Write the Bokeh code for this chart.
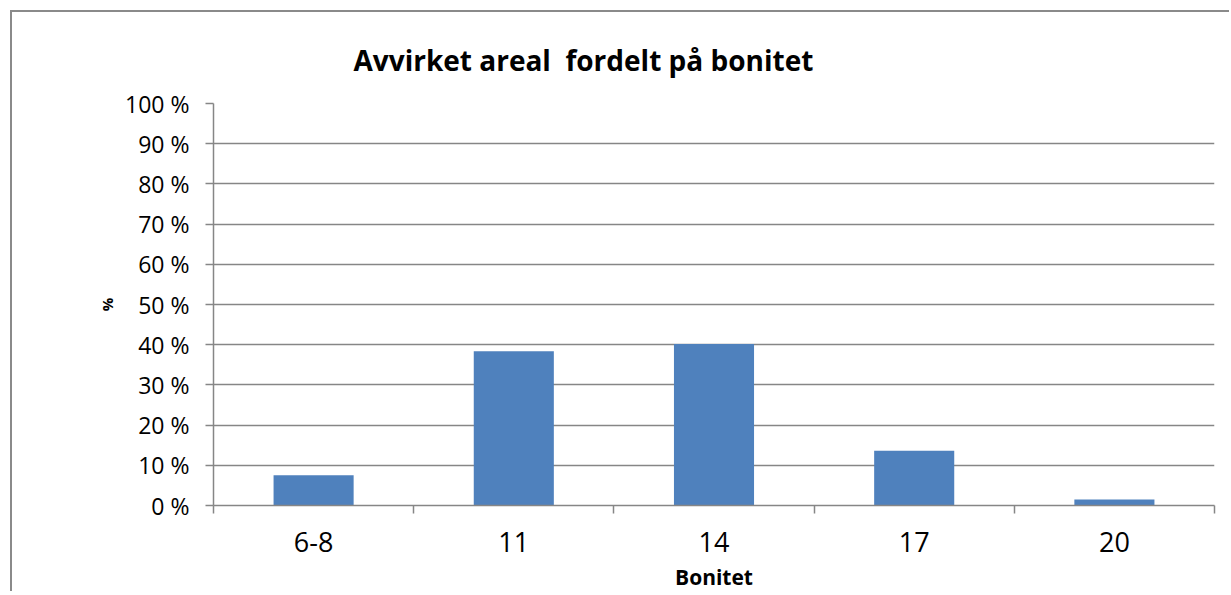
from bokeh.plotting import figure
from bokeh.models import Range1d, FixedTicker, PrintfTickFormatter, ColumnDataSource
from bokeh.embed import file_html
from bokeh.resources import INLINE

categories = ["6-8", "11", "14", "17", "20"]
values = [7.5, 38.4, 40.2, 13.6, 1.5]
y_ticks = [0, 10, 20, 30, 40, 50, 60, 70, 80, 90, 100]

FONT = "Open Sans"
GRAY = "#868686"

n = len(categories)
centers = [i + 0.5 for i in range(n)]
source = ColumnDataSource(dict(x=centers, top=values, cat=categories))

p = figure(width=1219, height=581, output_backend="svg", toolbar_location=None,
           x_range=Range1d(0, n), y_range=Range1d(0, 100),
           min_border_left=201, min_border_right=17, min_border_top=91, min_border_bottom=87)
p.margin = (10, 0, 0, 10)
p.styles = {"border-left": "2px solid #8a8a8a", "border-top": "2px solid #8a8a8a"}

p.vbar(x="x", top="top", width=0.4, bottom=0, source=source,
       fill_color="#4f81bd", line_color=None)

p.outline_line_color = None
p.background_fill_color = "white"
p.border_fill_color = "white"

# Title
p.title.text = "Avvirket areal\u00a0 fordelt på bonitet"
p.title.text_font = FONT
p.title.text_font_size = "28px"
p.title.text_font_style = "bold"
p.title.text_color = "black"
p.title.align = "left"
p.title.offset = 140
p.title.standoff = 50

# Grid
p.xgrid.grid_line_color = None
p.ygrid.ticker = FixedTicker(ticks=y_ticks)
p.ygrid.grid_line_color = GRAY
p.ygrid.grid_line_width = 1.5

# Y axis
yax = p.yaxis[0]
yax.ticker = FixedTicker(ticks=y_ticks)
yax.formatter = PrintfTickFormatter(format="%d %%")
yax.axis_line_color = GRAY
yax.axis_line_width = 1.5
yax.major_tick_line_color = GRAY
yax.major_tick_line_width = 1.5
yax.major_tick_out = 8
yax.major_tick_in = 0
yax.minor_tick_line_color = None
yax.major_label_text_font = FONT
yax.major_label_text_font_size = "23px"
yax.major_label_text_color = "black"
yax.major_label_standoff = 16
yax.axis_label = "%"
yax.axis_label_text_font = FONT
yax.axis_label_text_font_style = "bold"
yax.axis_label_text_font_size = "15px"
yax.axis_label_text_color = "black"
yax.axis_label_standoff = 5

# X axis: labels at centers, ticks at category boundaries
xax = p.xaxis[0]
xax.ticker = FixedTicker(ticks=centers, minor_ticks=list(range(n + 1)))
xax.major_label_overrides = {c: cat for c, cat in zip(centers, categories)}
xax.axis_line_color = GRAY
xax.axis_line_width = 1.5
xax.major_tick_line_color = None
xax.major_tick_out = 0
xax.major_tick_in = 0
xax.minor_tick_line_color = GRAY
xax.minor_tick_line_width = 1.5
xax.minor_tick_out = 8
xax.minor_tick_in = 0
xax.major_label_text_font = FONT
xax.major_label_text_font_size = "27px"
xax.major_label_text_color = "black"
xax.major_label_standoff = 18
xax.axis_label = "Bonitet"
xax.axis_label_text_font = FONT
xax.axis_label_text_font_style = "bold"
xax.axis_label_text_font_size = "21px"
xax.axis_label_text_color = "black"
xax.axis_label_standoff = 8

open("out.html", "w").write(file_html(p, INLINE))
